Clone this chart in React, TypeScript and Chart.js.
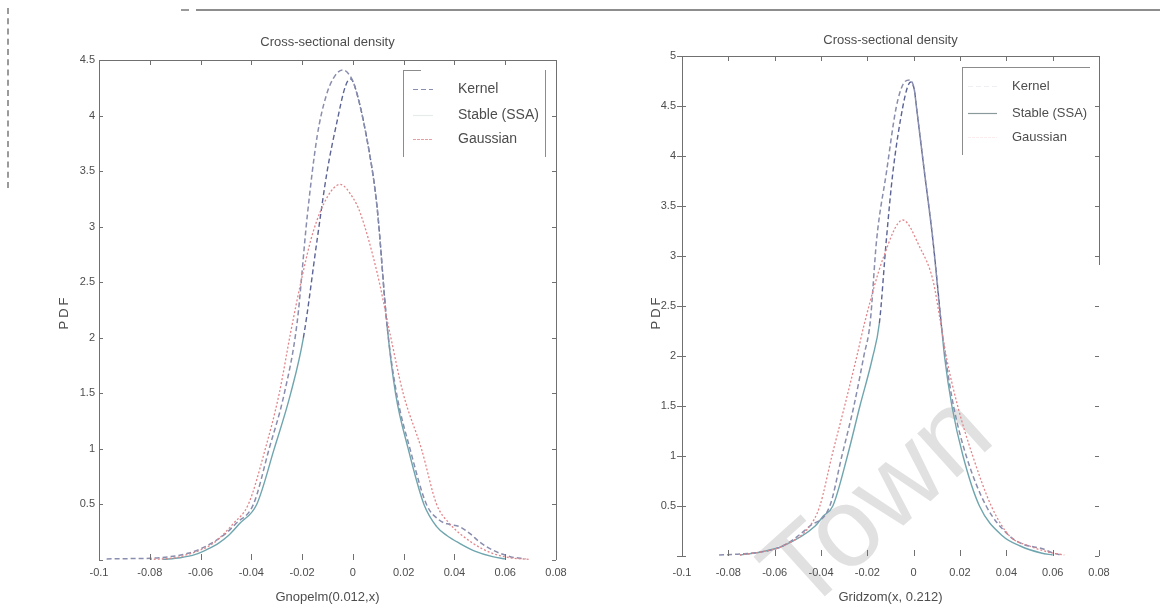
import React, { useEffect, useRef } from "react";
import { Chart, registerables } from "chart.js";

Chart.register(...registerables);

// ---------- data ----------
const chartTitle = "Cross-sectional density";
const yAxisTitle = "PDF";
const leftXTitle = "Gnopelm(0.012,x)";
const rightXTitle = "Gridzom(x, 0.212)";
const legendLabels = ["Kernel", "Stable (SSA)", "Gaussian"];

const xTickValues = [-0.1, -0.08, -0.06, -0.04, -0.02, 0, 0.02, 0.04, 0.06, 0.08];
const leftYTickValues = [0, 0.5, 1, 1.5, 2, 2.5, 3, 3.5, 4, 4.5];
const rightYTickValues = [0, 0.5, 1, 1.5, 2, 2.5, 3, 3.5, 4, 4.5, 5];

// Left panel
const leftKernelX = [-0.097, -0.09, -0.08, -0.072, -0.065, -0.06, -0.055, -0.05, -0.046, -0.0392, -0.033, -0.027, -0.022, -0.018, -0.0141, -0.0105, -0.007, -0.004, -0.0015, 0.0005, 0.0056, 0.0095, 0.0135, 0.0172, 0.0225, 0.029, 0.034, 0.038, 0.042, 0.046, 0.05, 0.055, 0.062, 0.068];
const leftKernelY = [0.01, 0.012, 0.015, 0.03, 0.06, 0.1, 0.16, 0.24, 0.33, 0.5, 1.0, 1.5, 2.13, 3.09, 3.81, 4.18, 4.36, 4.41, 4.37, 4.28, 3.78, 3.18, 2.1, 1.5, 1.0, 0.5, 0.36, 0.32, 0.3, 0.24, 0.16, 0.09, 0.03, 0.01];

const leftStableX = [-0.075, -0.068, -0.062, -0.057, -0.053, -0.049, -0.0445, -0.0379, -0.031, -0.0245, -0.0195, -0.0141, -0.0102, -0.0063, -0.003, -0.001, 0.0005, 0.0056, 0.0095, 0.0135, 0.0168, 0.0218, 0.028, 0.033, 0.037, 0.042, 0.048, 0.055, 0.06];
const leftStableY = [0.005, 0.02, 0.05, 0.1, 0.15, 0.22, 0.33, 0.5, 1.0, 1.5, 2.0, 2.88, 3.49, 3.94, 4.26, 4.33, 4.28, 3.78, 3.18, 2.1, 1.5, 1.0, 0.5, 0.3, 0.22, 0.15, 0.08, 0.03, 0.01];

const leftGaussX = [-0.08, -0.07, -0.065, -0.06, -0.055, -0.047, -0.0412, -0.0345, -0.029, -0.0245, -0.02, -0.0157, -0.01, -0.005, 0, 0.0028, 0.0095, 0.0145, 0.0198, 0.027, 0.033, 0.038, 0.0473, 0.055, 0.062, 0.07];
const leftGaussY = [0.005, 0.02, 0.05, 0.09, 0.15, 0.33, 0.5, 1.0, 1.5, 2.05, 2.55, 2.95, 3.27, 3.38, 3.26, 3.13, 2.59, 2.05, 1.5, 1.0, 0.5, 0.33, 0.15, 0.06, 0.02, 0.005];

// Right panel
const rightKernelX = [-0.084, -0.075, -0.066, -0.0565, -0.0448, -0.0362, -0.031, -0.0258, -0.0215, -0.0188, -0.016, -0.0118, -0.0075, -0.0045, -0.0017, 0.0003, 0.0012, 0.0047, 0.0083, 0.012, 0.0138, 0.0172, 0.0227, 0.0313, 0.0414, 0.047, 0.052, 0.056, 0.06, 0.064];
const rightKernelY = [0.01, 0.02, 0.04, 0.1, 0.3, 0.5, 1.0, 1.5, 2.0, 2.33, 3.16, 3.83, 4.49, 4.72, 4.76, 4.66, 4.49, 3.83, 3.16, 2.3, 1.98, 1.5, 1.0, 0.5, 0.2, 0.12, 0.09, 0.07, 0.03, 0.01];

const rightStableX = [-0.075, -0.066, -0.0565, -0.0425, -0.039, -0.0349, -0.0286, -0.0232, -0.0178, -0.0148, -0.0118, -0.009, -0.0047, -0.0025, -0.0012, 0.0003, 0.0012, 0.0047, 0.0083, 0.012, 0.0134, 0.0165, 0.0213, 0.0284, 0.0384, 0.046, 0.055, 0.06];
const rightStableY = [0.01, 0.04, 0.1, 0.3, 0.4, 0.5, 1.0, 1.5, 1.98, 2.33, 3.16, 3.83, 4.49, 4.7, 4.74, 4.66, 4.49, 3.83, 3.16, 2.3, 1.98, 1.5, 1.0, 0.5, 0.2, 0.1, 0.03, 0.01];

const rightGaussX = [-0.075, -0.066, -0.0565, -0.0448, -0.0405, -0.0353, -0.0298, -0.0245, -0.0212, -0.013, -0.0047, 0.0026, 0.0083, 0.0115, 0.0142, 0.019, 0.0255, 0.0335, 0.0414, 0.05, 0.058, 0.065];
const rightGaussY = [0.01, 0.04, 0.1, 0.3, 0.5, 1.0, 1.5, 2.0, 2.33, 2.99, 3.36, 3.09, 2.76, 2.35, 1.98, 1.5, 1.0, 0.5, 0.2, 0.1, 0.04, 0.01];

// ---------- styles ----------
const FONT = "'Liberation Sans', Arial, sans-serif";
const TEXT = "#4d4d4d";
const AXIS = "#707070";
const KERNEL_COLOR = "#8a8eae";
const STABLE_UP = "#5c6496";
const STABLE_LOW = "#6fa5ae";
const GAUSS_COLOR = "#e2858a";

type Area = { left: number; right: number; top: number; bottom: number };
type LegendCfg = {
  x1: number; y1: number; x2: number; y2: number;
  topLen: number; showRight: boolean;
  sx1: number; sx2: number; tx: number; rows: number[];
  fontSize: number; sampleAlpha: number[];
};
type PanelCfg = {
  width: number;
  height: number;
  area: Area;
  yMax: number;
  yTicks: number[];
  xTitle: string;
  titleY: number;
  yTitleX: number;
  rightBorderEnd: number;
  outerYTicks: boolean;
  yTickPad: number;
  legend: LegendCfg;
  kernel: [number[], number[]];
  stable: [number[], number[]];
  gauss: [number[], number[]];
};

const toPoints = (xs: number[], ys: number[]) => xs.map((x, i) => ({ x, y: ys[i] }));

function makeFramePlugin(cfg: PanelCfg) {
  return {
    id: "frame",
    afterDraw(chart: any) {
      const ctx = chart.ctx as CanvasRenderingContext2D;
      const { left, right, top, bottom } = chart.chartArea;
      const xs = chart.scales.x;
      const ys = chart.scales.y;
      const L0 = Math.round(left) + 0.5;
      const R0 = Math.round(right) + 0.5;
      const T0 = Math.round(top) + 0.5;
      ctx.save();
      ctx.strokeStyle = AXIS;
      ctx.lineWidth = 1;
      ctx.setLineDash([]);
      ctx.beginPath();
      // top, left, (partial) right borders; no bottom line as in the scan
      ctx.moveTo(L0, T0); ctx.lineTo(R0, T0);
      ctx.moveTo(L0, T0); ctx.lineTo(L0, bottom);
      ctx.moveTo(R0, T0); ctx.lineTo(R0, Math.min(bottom, cfg.rightBorderEnd));
      // inner ticks
      xTickValues.forEach((v) => {
        const p = Math.round(xs.getPixelForValue(v)) + 0.5;
        ctx.moveTo(p, bottom);
        ctx.lineTo(p, bottom - 6);
        ctx.moveTo(p, top);
        ctx.lineTo(p, top + 5);
      });
      cfg.yTicks.forEach((v) => {
        const p = Math.round(ys.getPixelForValue(v)) + 0.5;
        ctx.moveTo(left, p);
        ctx.lineTo(left + 4, p);
        if (cfg.outerYTicks) { ctx.moveTo(left, p); ctx.lineTo(left - 5, p); }
        ctx.moveTo(right, p);
        ctx.lineTo(right - 4, p);
      });
      ctx.stroke();

      // titles
      ctx.fillStyle = TEXT;
      ctx.textAlign = "center";
      ctx.textBaseline = "middle";
      ctx.font = `13px ${FONT}`;
      const cx = (left + right) / 2;
      ctx.fillText(chartTitle, cx, cfg.titleY);
      ctx.fillText(cfg.xTitle, cx, 597);
      ctx.save();
      ctx.translate(cfg.yTitleX, 312);
      ctx.rotate(-Math.PI / 2);
      (ctx as any).letterSpacing = "3px";
      ctx.fillText(yAxisTitle, 0, 0);
      ctx.restore();

      // legend box
      const L = cfg.legend;
      ctx.strokeStyle = "#8c8c8c";
      ctx.lineWidth = 1;
      ctx.beginPath();
      ctx.moveTo(L.x1, L.y1 + 0.5); ctx.lineTo(L.x1 + L.topLen, L.y1 + 0.5);
      ctx.moveTo(L.x1 + 0.5, L.y1); ctx.lineTo(L.x1 + 0.5, L.y2);
      if (L.showRight) { ctx.moveTo(L.x2 + 0.5, L.y1); ctx.lineTo(L.x2 + 0.5, L.y2); }
      ctx.stroke();
      const sampleStyles: [string, number[]][] = [
        [KERNEL_COLOR, [5, 3]],
        ["#8a9a9c", []],
        [GAUSS_COLOR, [3, 1]],
      ];
      legendLabels.forEach((lab, i) => {
        const y = L.rows[i];
        ctx.globalAlpha = L.sampleAlpha[i];
        ctx.strokeStyle = sampleStyles[i][0];
        ctx.setLineDash(sampleStyles[i][1]);
        ctx.lineWidth = 1.2;
        ctx.beginPath();
        ctx.moveTo(L.sx1, y + 0.5);
        ctx.lineTo(L.sx2, y + 0.5);
        ctx.stroke();
        ctx.globalAlpha = 1;
        ctx.setLineDash([]);
        ctx.fillStyle = TEXT;
        ctx.textAlign = "left";
        ctx.font = `${L.fontSize}px ${FONT}`;
        ctx.fillText(lab, L.tx, y);
      });
      ctx.restore();
    },
  };
}

function Panel({ cfg }: { cfg: PanelCfg }) {
  const ref = useRef<HTMLCanvasElement | null>(null);
  useEffect(() => {
    if (!ref.current) return;
    const a = cfg.area;
    const upper = (c: any) => (c.p0.parsed.y + c.p1.parsed.y) / 2 > 2.25;
    const chart = new Chart(ref.current, {
      type: "line",
      data: {
        datasets: [
          {
            label: legendLabels[2],
            data: toPoints(cfg.gauss[0], cfg.gauss[1]),
            borderColor: GAUSS_COLOR,
            borderDash: [2, 2],
            borderWidth: 1.3,
            pointRadius: 0,
            cubicInterpolationMode: "monotone",
          },
          {
            label: legendLabels[0],
            data: toPoints(cfg.kernel[0], cfg.kernel[1]),
            borderColor: KERNEL_COLOR,
            borderDash: [5, 3],
            borderWidth: 1.5,
            pointRadius: 0,
            cubicInterpolationMode: "monotone",
          },
          {
            label: legendLabels[1],
            data: toPoints(cfg.stable[0], cfg.stable[1]),
            borderColor: STABLE_LOW,
            borderWidth: 1.4,
            pointRadius: 0,
            cubicInterpolationMode: "monotone",
            segment: {
              borderColor: (c: any) => (upper(c) ? STABLE_UP : STABLE_LOW),
              borderDash: (c: any) => (upper(c) ? [5, 3] : []),
            },
          },
        ],
      },
      options: {
        animation: false,
        responsive: false,
        maintainAspectRatio: false,
        events: [],
        layout: { padding: { left: 0, top: a.top, right: cfg.width - a.right, bottom: 0 } },
        plugins: { legend: { display: false }, title: { display: false }, tooltip: { enabled: false } },
        scales: {
          x: {
            type: "linear",
            min: -0.1,
            max: 0.08,
            grid: { display: false, drawTicks: false },
            border: { display: false },
            afterFit: (s: any) => { s.height = cfg.height - a.bottom; },
            afterBuildTicks: (s: any) => { s.ticks = xTickValues.map((v) => ({ value: v })); },
            ticks: {
              autoSkip: false,
              maxRotation: 0,
              padding: 566 - a.bottom + (a.bottom < 558 ? 0 : 0),
              color: TEXT,
              font: { family: FONT, size: 11 },
              callback: (v: any) => String(Math.round(Number(v) * 100) / 100),
            },
          },
          y: {
            type: "linear",
            min: 0,
            max: cfg.yMax,
            grid: { display: false, drawTicks: false },
            border: { display: false },
            afterFit: (s: any) => { s.width = a.left; },
            afterBuildTicks: (s: any) => { s.ticks = cfg.yTicks.map((v) => ({ value: v })); },
            ticks: {
              padding: cfg.yTickPad,
              color: TEXT,
              font: { family: FONT, size: 11 },
              callback: (v: any) => (Number(v) === 0 ? "" : String(Math.round(Number(v) * 10) / 10)),
            },
          },
        },
      },
      plugins: [makeFramePlugin(cfg)],
    } as any);
    return () => chart.destroy();
  }, [cfg]);
  return <canvas ref={ref} width={cfg.width} height={cfg.height} style={{ display: "block", width: cfg.width, height: cfg.height }} />;
}

const leftCfg: PanelCfg = {
  width: 580,
  height: 613,
  area: { left: 99, right: 556, top: 60, bottom: 560 },
  yMax: 4.5,
  yTicks: leftYTickValues,
  xTitle: leftXTitle,
  titleY: 42,
  yTitleX: 64,
  rightBorderEnd: 560,
  outerYTicks: false,
  yTickPad: 4,
  legend: { x1: 403, y1: 70, x2: 545, y2: 157, topLen: 18, showRight: true, sx1: 413, sx2: 433, tx: 458, rows: [89, 115, 139], fontSize: 14, sampleAlpha: [1, 0.2, 0.8] },
  kernel: [leftKernelX, leftKernelY],
  stable: [leftStableX, leftStableY],
  gauss: [leftGaussX, leftGaussY],
};

const rightCfg: PanelCfg = {
  width: 580,
  height: 613,
  area: { left: 102, right: 519, top: 56, bottom: 556 },
  yMax: 5,
  yTicks: rightYTickValues,
  xTitle: rightXTitle,
  titleY: 40,
  yTitleX: 76,
  rightBorderEnd: 265,
  outerYTicks: true,
  yTickPad: 6,
  legend: { x1: 382, y1: 67, x2: 510, y2: 155, topLen: 128, showRight: false, sx1: 388, sx2: 417, tx: 432, rows: [86, 113, 137], fontSize: 13, sampleAlpha: [0.15, 1, 0.15] },
  kernel: [rightKernelX, rightKernelY],
  stable: [rightStableX, rightStableY],
  gauss: [rightGaussX, rightGaussY],
};

export default function App() {
  return (
    <div style={{ position: "absolute", left: 0, top: 0, width: 1160, height: 613, background: "#fff", overflow: "hidden" }}>
      <div style={{ position: "absolute", left: 196, top: 9, width: 964, height: 2, background: "#8d8d8d" }} />
      <div style={{ position: "absolute", left: 181, top: 9, width: 8, height: 2, background: "#9a9a9a" }} />
      <div style={{ position: "absolute", left: 7, top: 8, width: 0, height: 180, borderLeft: "2px dashed #9a9a9a" }} />
      <div
        style={{
          position: "absolute",
          left: 875,
          top: 500,
          transform: "translate(-50%, -50%) rotate(-42deg)",
          fontFamily: FONT,
          fontSize: 112,
          color: "#e1e1e1",
          whiteSpace: "nowrap",
          lineHeight: 1,
        }}
      >
        Town
      </div>
      <div style={{ position: "absolute", left: 0, top: 0 }}>
        <Panel cfg={leftCfg} />
      </div>
      <div style={{ position: "absolute", left: 580, top: 0 }}>
        <Panel cfg={rightCfg} />
      </div>
    </div>
  );
}
